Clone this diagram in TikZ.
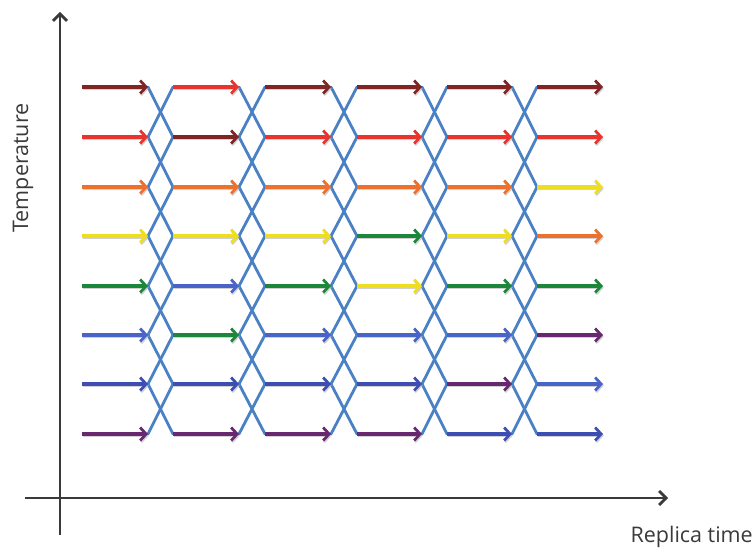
\documentclass[tikz,border=0pt]{standalone}
\usepackage{fontspec}
\setmainfont{Open Sans}
\usetikzlibrary{arrows.meta}

% replica colours
\definecolor{cDR}{RGB}{128,36,36}
\definecolor{cR}{RGB}{232,52,45}
\definecolor{cO}{RGB}{238,112,45}
\definecolor{cY}{RGB}{238,222,30}
\definecolor{cG}{RGB}{28,135,58}
\definecolor{cBa}{RGB}{72,100,200}
\definecolor{cBb}{RGB}{60,78,180}
\definecolor{cP}{RGB}{104,40,112}
% exchange links and axes
\definecolor{linkblue}{RGB}{74,128,196}
\definecolor{axisgray}{RGB}{58,58,58}

\begin{document}
\begin{tikzpicture}[x=1pt,y=-1pt,
  replica/.style={line width=3.2pt,
    -{Straight Barb[length=6pt,width=13pt,line width=2.7pt]}},
  replicashadow/.style={replica, draw=black!30, opacity=0.6},
  exchange/.style={draw=linkblue, line width=2.8pt, line cap=round},
  axisline/.style={draw=axisgray, line width=2.8pt,
    -{Straight Barb[length=7pt,width=14pt,line width=2.8pt]}},
  axislabel/.style={text=axisgray, inner sep=0pt,
    font=\fontsize{21.5}{25}\selectfont}]
\useasboundingbox (0,0) rectangle (754,548);

% start and end points of every replica segment
\foreach \c/\xs/\xe in {1/82/148, 2/173/239, 3/265/331, 4/357/422, 5/447/512, 6/537/603}
  \foreach \r/\y in {1/87, 2/137, 3/187, 4/236, 5/286, 6/335, 7/384, 8/434} {
    \coordinate (s\c-\r) at (\xs,\y);
    \coordinate (e\c-\r) at (\xe,\y);
  }

% exchange attempts between neighbouring temperatures
\foreach \c in {1,...,5} {
  \pgfmathtruncatemacro{\n}{\c+1}
  \foreach \r in {1,...,7} {
    \pgfmathtruncatemacro{\q}{\r+1}
    \draw[exchange] (e\c-\r) -- (s\n-\q);
    \draw[exchange] (e\c-\q) -- (s\n-\r);
  }
}

% replica segments, coloured by replica
\foreach \c/\cols in {
    1/{cDR,cR,cO,cY,cG,cBa,cBb,cP},
    2/{cR,cDR,cO,cY,cBa,cG,cBb,cP},
    3/{cDR,cR,cO,cY,cG,cBa,cBb,cP},
    4/{cDR,cR,cO,cG,cY,cBa,cBb,cP},
    5/{cDR,cR,cO,cY,cG,cBa,cP,cBb},
    6/{cDR,cR,cY,cO,cG,cP,cBa,cBb}}
  \foreach \col [count=\r] in \cols {
    \draw[replicashadow, transform canvas={xshift=0.8pt, yshift=-1.6pt}] (s\c-\r) -- (e\c-\r);
    \draw[replica, draw=\col] (s\c-\r) -- (e\c-\r);
  }

% axes
\coordinate (ybot) at (60,535);
\coordinate (ytop) at (60,12);
\coordinate (xleft) at (25,498);
\coordinate (xright) at (668,498);
\draw[axisline] (ybot) -- (ytop);
\draw[axisline] (xleft) -- (xright);

\node[axislabel, rotate=90] (templabel) at (23,168) {Temperature};
\node[axislabel, anchor=east] (timelabel) at (753,537) {Replica time};
\end{tikzpicture}
\end{document}
